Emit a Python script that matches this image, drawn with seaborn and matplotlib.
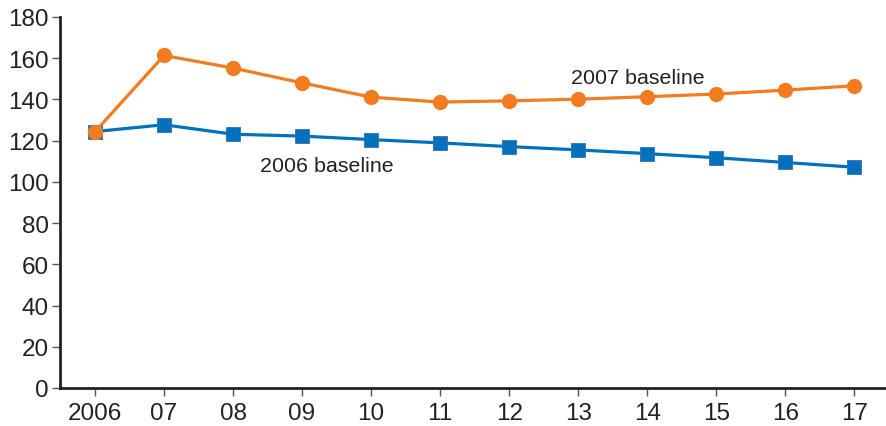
import matplotlib
matplotlib.use("Agg")
import matplotlib.pyplot as plt
import seaborn as sns
import pandas as pd

years = ["2006", "07", "08", "09", "10", "11", "12", "13", "14", "15", "16", "17"]
baseline_2006 = [124.4, 127.7, 123.1, 122.2, 120.5, 118.9, 117.1, 115.5, 113.7, 111.7, 109.4, 107.1]
baseline_2007 = [124.3, 161.3, 155.2, 148.0, 141.1, 138.7, 139.3, 140.1, 141.3, 142.6, 144.5, 146.6]
yticks = [0, 20, 40, 60, 80, 100, 120, 140, 160, 180]

sns.set_theme(style="ticks")
plt.rcParams['font.family'] = ['Liberation Sans', 'DejaVu Sans']

blue = "#0071BC"
orange = "#F47C20"

df = pd.DataFrame({
    "x": list(range(len(years))) * 2,
    "value": baseline_2006 + baseline_2007,
    "series": ["2006 baseline"] * len(years) + ["2007 baseline"] * len(years),
})

fig = plt.figure(figsize=(8.86, 4.27), dpi=100)
ax = fig.add_axes([0.0677, 0.089, 0.9323, 0.869])

sns.lineplot(data=df[df.series == "2006 baseline"], x="x", y="value", ax=ax,
             color=blue, marker="s", markersize=10, linewidth=2.3,
             markeredgecolor="#3a6fb0", markeredgewidth=0.6, legend=False)
sns.lineplot(data=df[df.series == "2007 baseline"], x="x", y="value", ax=ax,
             color=orange, marker="o", markersize=11, linewidth=2.3,
             markeredgewidth=0, legend=False)

ax.set_xlim(-0.507, 11.46)
ax.set_ylim(0, 180)
ax.set_xticks(range(len(years)))
ax.set_xticklabels(years)
ax.set_yticks(yticks)
ax.set_xlabel("")
ax.set_ylabel("")
ax.tick_params(axis="both", labelsize=17.5, colors="#222222", length=6, width=1, direction="out")
ax.tick_params(axis="y", pad=2, color="#555555")
ax.tick_params(axis="x", pad=4, color="#555555")
for s in ["top", "right"]:
    ax.spines[s].set_visible(False)
for s in ["left", "bottom"]:
    ax.spines[s].set_color("#222222")
    ax.spines[s].set_linewidth(2)

ax.text(3.36, 107.8, "2006 baseline", fontsize=15.4, color="#222222", ha="center", va="center")
ax.text(7.86, 150.5, "2007 baseline", fontsize=15.4, color="#222222", ha="center", va="center")

fig.savefig("out.png", dpi=100)
